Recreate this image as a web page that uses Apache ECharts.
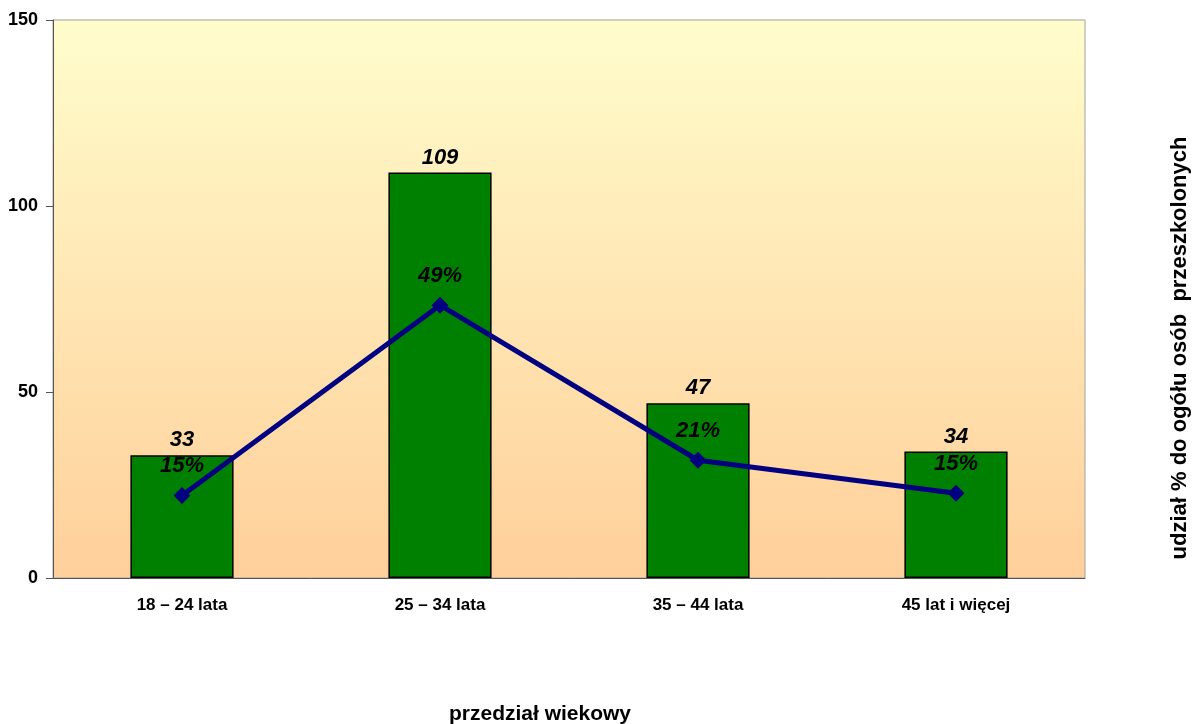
<!DOCTYPE html>
<html>
<head>
<meta charset="utf-8">
<script src="https://cdn.jsdelivr.net/npm/echarts@6/dist/echarts.min.js"></script>
<style>
  html, body { margin: 0; padding: 0; background: #fff; }
  #chart { width: 1199px; height: 724px; }
</style>
</head>
<body>
<div id="chart"></div>
<script>
// age ranges
const categories = ['18 – 24 lata', '25 – 34 lata', '35 – 44 lata', '45 lat i więcej']
// number of trained people
const counts = [33, 109, 47, 34]
// share of all trained people (%)
const shares = [14.8, 48.9, 21.1, 15.2]
const yTicks = [0, 50, 100, 150]

const chart = echarts.init(document.getElementById('chart'))

chart.setOption({
  animation: false,
  textStyle: { fontFamily: 'Liberation Sans, Arial, sans-serif' },
  grid: {
    left: 53,
    right: 114,
    top: 20,
    bottom: 146,
    show: true,
    borderColor: '#a0a0a0',
    borderWidth: 1,
    backgroundColor: new echarts.graphic.LinearGradient(0, 0, 0, 1, [
      { offset: 0, color: '#fffdcc' },
      { offset: 1, color: '#ffcf9a' }
    ])
  },
  xAxis: {
    type: 'category',
    data: categories,
    axisLine: { lineStyle: { color: '#555', width: 1 } },
    axisTick: { length: 8, lineStyle: { color: '#555' } },
    axisLabel: {
      color: '#000',
      fontWeight: 'bold',
      fontSize: 17,
      margin: 19
    }
  },
  yAxis: [
    {
      type: 'value',
      min: yTicks[0],
      max: yTicks[yTicks.length - 1],
      interval: 50,
      splitLine: { show: false },
      axisLine: { show: true, lineStyle: { color: '#555' } },
      axisTick: { show: true, length: 7, lineStyle: { color: '#555' } },
      axisLabel: {
        color: '#000',
        fontWeight: 'bold',
        fontSize: 18,
        margin: 15
      }
    },
    {
      type: 'value',
      min: 0,
      max: 100,
      show: false,
      splitLine: { show: false }
    }
  ],
  series: [
    {
      type: 'bar',
      data: counts,
      barWidth: '40%',
      itemStyle: {
        color: '#008000',
        borderColor: '#000',
        borderWidth: 1.5
      },
      label: {
        show: true,
        position: 'top',
        distance: 4,
        color: '#000',
        fontSize: 22,
        fontWeight: 'bold',
        fontStyle: 'italic'
      }
    },
    {
      type: 'line',
      yAxisIndex: 1,
      data: shares,
      symbol: 'diamond',
      symbolSize: 17,
      lineStyle: { color: '#000080', width: 5 },
      itemStyle: { color: '#000080' },
      label: {
        show: true,
        position: 'top',
        distance: 10,
        color: '#000',
        fontSize: 22,
        fontWeight: 'bold',
        fontStyle: 'italic',
        formatter: p => Math.round(p.value) + '%'
      },
      z: 3
    }
  ],
  graphic: [
    {
      type: 'text',
      x: 540,
      y: 714,
      style: {
        text: 'przedział wiekowy',
        fontSize: 21,
        fontWeight: 'bold',
        fontFamily: 'Liberation Sans, Arial, sans-serif',
        fill: '#000',
        align: 'center',
        verticalAlign: 'middle'
      }
    },
    {
      type: 'text',
      x: 1180,
      y: 348,
      rotation: Math.PI / 2,
      style: {
        text: 'udział % do ogółu osób  przeszkolonych',
        fontSize: 22,
        fontWeight: 'bold',
        fontFamily: 'Liberation Sans, Arial, sans-serif',
        fill: '#000',
        align: 'center',
        verticalAlign: 'middle'
      }
    }
  ]
})
</script>
</body>
</html>
